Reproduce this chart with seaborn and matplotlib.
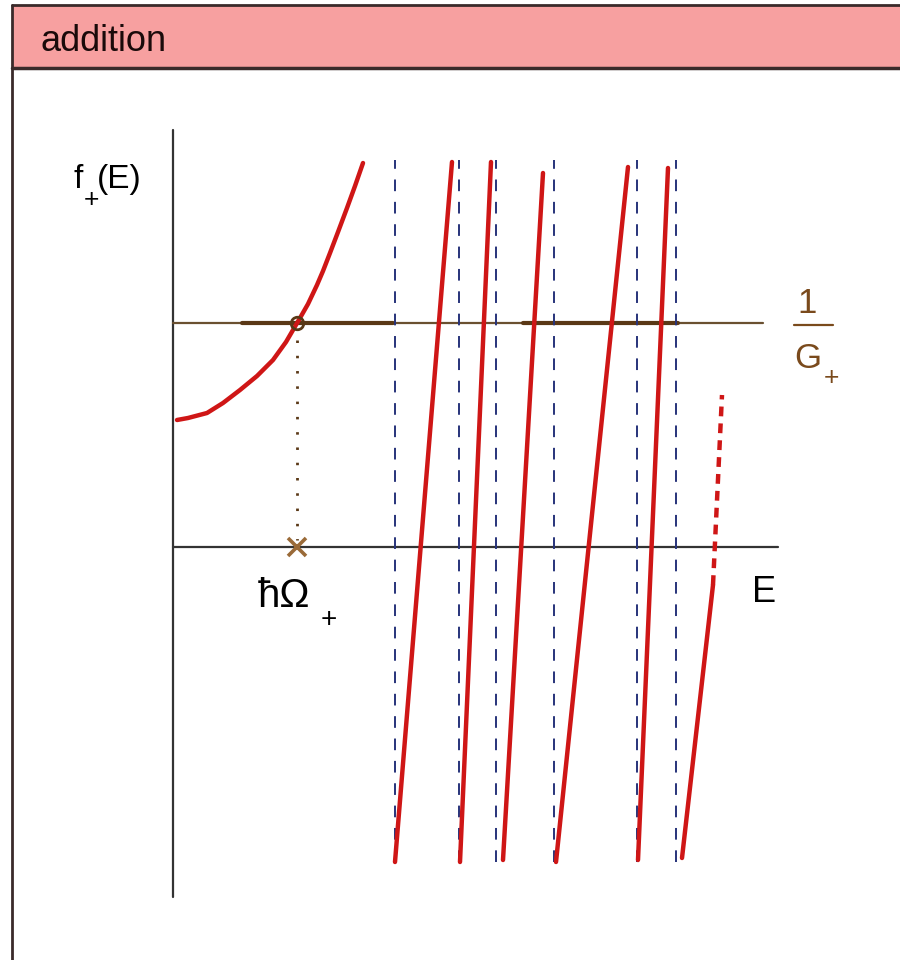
import matplotlib
matplotlib.use("Agg")
import matplotlib.pyplot as plt
import numpy as np
import pandas as pd
import seaborn as sns
from matplotlib.patches import Rectangle
from matplotlib.lines import Line2D

sns.set_theme(style="white")
plt.rcParams["font.family"] = ["Liberation Sans", "DejaVu Sans"]

# ---- data -------------------------------------------------------------
# lowest branch of f_+(E), left of the first pole
E_low = [0.04, 0.15, 0.34, 0.50, 0.67, 0.84, 1.00, 1.13, 1.27, 1.35,
         1.44, 1.50, 1.57, 1.65, 1.74, 1.82, 1.90]
f_low = [1.27, 1.29, 1.34, 1.44, 1.57, 1.71, 1.87, 2.05, 2.29, 2.43,
         2.62, 2.76, 2.94, 3.15, 3.39, 3.61, 3.84]

# steep branches between poles (bottom point -> top point)
branch_E0 = [2.22, 2.87, 3.30, 3.83, 4.65, 5.09]
branch_f0 = [-3.15, -3.15, -3.13, -3.15, -3.13, -3.11]
branch_E1 = [2.79, 3.18, 3.70, 4.55, 4.95, 5.40]
branch_f1 = [3.85, 3.85, 3.74, 3.80, 3.79, -0.38]

# continuation of the last branch (drawn dashed)
cont_E = [5.40, 5.49]
cont_f = [-0.38, 1.52]

# pole positions (vertical asymptotes)
poles_E = [2.22, 2.86, 3.23, 3.81, 4.64, 5.03]
pole_f_range = [-3.15, 3.87]

# coupling level 1/G_+
inv_G = 2.24
inv_G_span = [0.0, 5.90]
band_lo = [0.69, 3.50]
band_hi = [2.20, 5.05]

# bound state energy
E_bound = 1.24

# axes extents
E_axis = [0.0, 6.05]
f_axis = [-3.50, 4.17]

RED = "#cf1616"
NAVY = "#27337a"
BROWN = "#6a5030"
DARK_BROWN = "#5a3816"
TEXT_BROWN = "#7a4a1c"

# ---- figure -----------------------------------------------------------
fig = plt.figure(figsize=(9, 9.6), dpi=100)
fig.patch.set_facecolor("white")
ax = fig.add_axes([0, 0, 1, 1])
ax.set_xlim(-1.73, 7.27)
ax.set_ylim(-4.13, 5.47)
ax.axis("off")

# panel frame and header
fig.add_artist(Rectangle((12 / 900, 1 - 68 / 960), 1 - 12 / 900, 63 / 960,
                         transform=fig.transFigure, facecolor="#f7a0a0",
                         edgecolor="none", zorder=0))
for xs, ys, lw in [([12, 12], [5, 960], 2.0),
                   ([12, 900], [5, 5], 2.0),
                   ([12, 900], [68, 68], 2.5)]:
    fig.add_artist(Line2D([x / 900 for x in xs], [1 - y / 960 for y in ys],
                          transform=fig.transFigure, color="#3a2a2a", lw=lw))
fig.text(41 / 900, 1 - 51 / 960, "addition", fontsize=26, color="#1a0a0a",
         ha="left", va="baseline")

# coordinate axes
ax.plot([0, 0], f_axis, color="#333333", lw=1.6, zorder=2)
ax.plot(E_axis, [0, 0], color="#333333", lw=1.6, zorder=2)

# 1/G_+ level with highlighted portions
ax.plot(inv_G_span, [inv_G, inv_G], color=BROWN, lw=1.6, zorder=2)
for lo, hi in zip(band_lo, band_hi):
    ax.plot([lo, hi], [inv_G, inv_G], color=DARK_BROWN, lw=3.0, zorder=2)

# poles
ax.vlines(poles_E, pole_f_range[0], pole_f_range[1], colors=NAVY, lw=1.4,
          linestyles=(0, (6, 5.5)), zorder=3)

# lowest branch
low_df = pd.DataFrame({"E": E_low, "f": f_low})
sns.lineplot(data=low_df, x="E", y="f", sort=False, estimator=None,
             color=RED, lw=3.2, ax=ax, zorder=4)

# steep branches
br_df = pd.DataFrame({
    "E": [v for pair in zip(branch_E0, branch_E1) for v in pair],
    "f": [v for pair in zip(branch_f0, branch_f1) for v in pair],
    "branch": [i for i in range(len(branch_E0)) for _ in range(2)],
})
sns.lineplot(data=br_df, x="E", y="f", units="branch", estimator=None,
             sort=False, color=RED, lw=3.2, ax=ax, zorder=4)

cont_df = pd.DataFrame({"E": cont_E, "f": cont_f})
sns.lineplot(data=cont_df, x="E", y="f", sort=False, estimator=None,
             color=RED, lw=3.2, ax=ax, zorder=4, dashes=False)
ax.lines[-1].set_linestyle((0, (2.2, 1.6)))

# projection of the crossing onto the energy axis
ax.plot([E_bound, E_bound], [inv_G - 0.17, 0.07], color=DARK_BROWN, lw=2.0,
        linestyle=(0, (0.9, 4.6)), zorder=3)
ax.plot([E_bound], [inv_G], marker="o", ms=9, mfc="none", mec=DARK_BROWN,
        mew=2.0, zorder=5)
ax.plot([E_bound], [0.0], marker="x", ms=13, mec="#9a6a38", mew=2.6, zorder=5)

# labels
ax.text(-1.00, 3.59, "f", fontsize=24, color="black", ha="left", va="baseline")
ax.text(-0.76, 3.59, "(E)", fontsize=24, color="black", ha="left", va="baseline")
ax.text(-0.82, 3.47, "+", fontsize=19, color="black", ha="center", va="center")

ax.text(5.79, -0.55, "E", fontsize=26, color="black", ha="left", va="baseline")

ax.text(0.85, -0.60, "ħΩ", fontsize=29, color="black", ha="left", va="baseline")
ax.text(1.56, -0.73, "+", fontsize=20, color="black", ha="center", va="center")

ax.text(6.34, 2.34, "1", fontsize=25, color=TEXT_BROWN, ha="center", va="baseline")
ax.plot([6.21, 6.60], [inv_G - 0.02, inv_G - 0.02], color=TEXT_BROWN, lw=1.6)
ax.text(6.21, 1.79, "G", fontsize=25, color=TEXT_BROWN, ha="left", va="baseline")
ax.text(6.58, 1.69, "+", fontsize=19, color=TEXT_BROWN, ha="center", va="center")

fig.savefig("out.png", dpi=100, facecolor="white")
